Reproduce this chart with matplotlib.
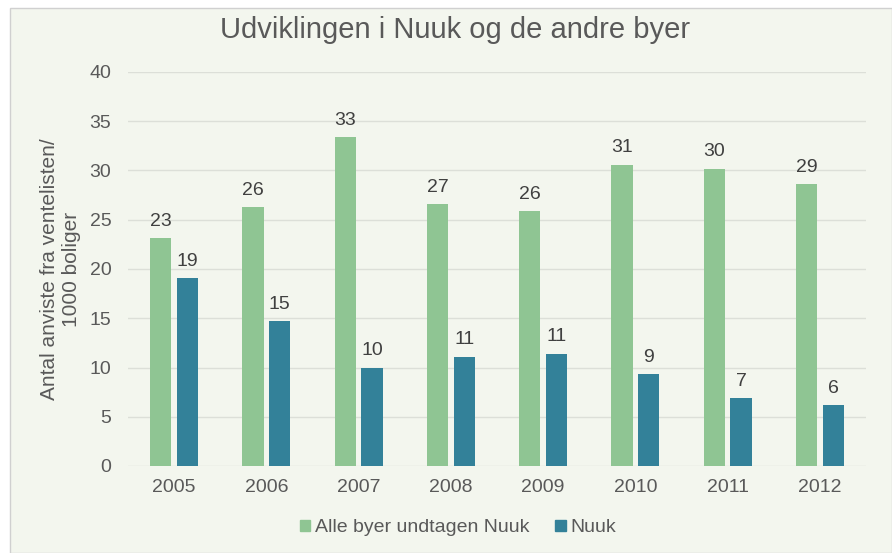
import numpy as np
import matplotlib.pyplot as plt
from matplotlib.patches import Rectangle, Patch

years = ["2005", "2006", "2007", "2008", "2009", "2010", "2011", "2012"]
others = [23.1, 26.3, 33.4, 26.6, 25.9, 30.6, 30.2, 28.6]
nuuk = [19.1, 14.7, 10.0, 11.1, 11.4, 9.3, 6.9, 6.2]
series_names = ["Alle byer undtagen Nuuk", "Nuuk"]

green = "#8fc593"
teal = "#338199"
txt = "#595959"

plt.rcParams["font.family"] = ["Liberation Sans", "DejaVu Sans"]

fig = plt.figure(figsize=(8.92, 5.53), dpi=100)
fig.patches.append(Rectangle((10 / 892, 0), 1 - 10 / 892, 1 - 8 / 553, transform=fig.transFigure,
                             facecolor="#f3f6ee", edgecolor="#d0d0d0", lw=1, zorder=-10))

ax = fig.add_axes([128 / 892, 1 - 466 / 553, (866 - 128) / 892, (466 - 72) / 553])
ax.set_facecolor("none")

x = np.arange(len(years))
w = 0.23
off = 0.146
b1 = ax.bar(x - off, others, w, color=green, zorder=3)
b2 = ax.bar(x + off, nuuk, w, color=teal, zorder=3)
for bars in (b1, b2):
    ax.bar_label(bars, fmt="%.0f", padding=6, color="#404040", fontsize=14)

ax.set_ylim(0, 40)
ax.set_xlim(-0.5, len(years) - 0.5)
ax.set_yticks(range(0, 41, 5))
ax.set_xticks(x, years)
ax.grid(axis="y", color="#dcdfd8", lw=1, zorder=0)
for s in ax.spines.values():
    s.set_visible(False)
ax.tick_params(length=0, labelsize=14, colors=txt, pad=9)
ax.tick_params(axis="y", pad=12)
ax.set_ylabel("Antal anviste fra ventelisten/\n1000 boliger", fontsize=15, color=txt, labelpad=6)

fig.text(455 / 892, 1 - 30 / 553, "Udviklingen i Nuuk og de andre byer", ha="center", va="center",
         fontsize=21, color=txt)

handles = [Patch(color=green), Patch(color=teal)]
fig.legend(handles, series_names, loc="center", bbox_to_anchor=(458 / 892, 1 - 528 / 553), ncol=2,
           frameon=False, fontsize=14, labelcolor=txt, handlelength=0.55, handleheight=0.55,
           handletextpad=0.25, columnspacing=1.3)

fig.savefig("out.png", dpi=100)
